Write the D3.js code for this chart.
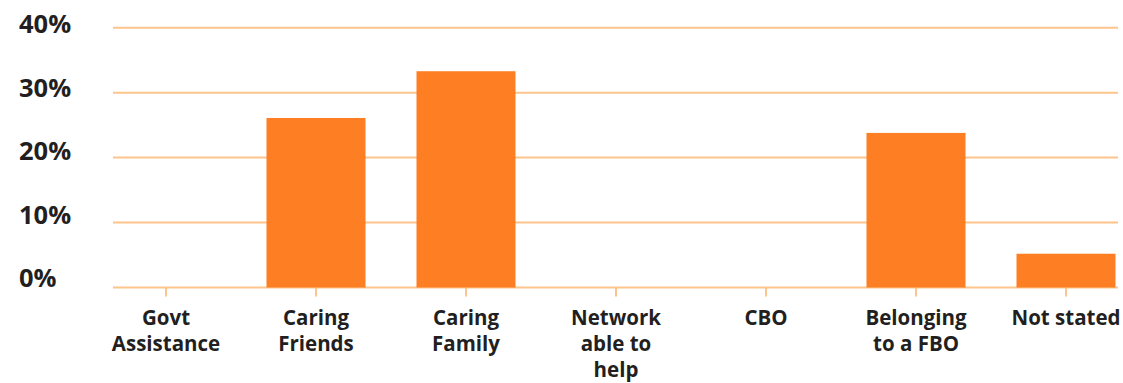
<!DOCTYPE html>
<html>
<head>
<meta charset="utf-8">
<script src="https://cdn.jsdelivr.net/npm/d3@7/dist/d3.min.js"></script>
<style>
  html, body { margin: 0; padding: 0; background: #ffffff; }
  svg { display: block; }
  text { font-family: "Open Sans", "DejaVu Sans", sans-serif; font-weight: 700; fill: #231f20; }
</style>
</head>
<body>
<svg id="chart" width="1123" height="383"></svg>
<script>
// Share of respondents by source of support
const categories = [
  ["Govt", "Assistance"],
  ["Caring", "Friends"],
  ["Caring", "Family"],
  ["Network", "able to", "help"],
  ["CBO"],
  ["Belonging", "to a FBO"],
  ["Not stated"]
];
const values = [0, 26.1, 33.3, 0, 0, 23.8, 5.2];
const yTicks = [0, 10, 20, 30, 40];
const yTickLabels = ["0%", "10%", "20%", "30%", "40%"];

const svg = d3.select("#chart");
const keys = categories.map(c => c.join(" "));

const x = d3.scaleBand()
  .domain(keys)
  .range([91, 1141])
  .paddingInner(0.34)
  .paddingOuter(0.17);

const y = d3.scaleLinear().domain([0, 40]).range([287.5, 27.7]);
// tick labels sit on a slightly tighter vertical rhythm than the gridlines
const yLabel = d3.scaleLinear().domain([0, 40]).range([287, 33.3]);

const gridColor = "#fdc48c";
const barColor = "#fe7f23";

// horizontal gridlines
svg.append("g")
  .selectAll("line")
  .data(yTicks)
  .join("line")
  .attr("x1", 113)
  .attr("x2", 1118)
  .attr("y1", d => y(d))
  .attr("y2", d => y(d))
  .attr("stroke", gridColor)
  .attr("stroke-width", 2);

// y tick labels
svg.append("g")
  .selectAll("text")
  .data(yTicks)
  .join("text")
  .attr("x", 19)
  .attr("y", d => yLabel(d))
  .style("font-size", "25.5px")
  .text((d, i) => yTickLabels[i]);

// category tick marks
svg.append("g")
  .selectAll("line")
  .data(keys)
  .join("line")
  .attr("x1", d => x(d) + x.bandwidth() / 2)
  .attr("x2", d => x(d) + x.bandwidth() / 2)
  .attr("y1", y(0))
  .attr("y2", y(0) + 9)
  .attr("stroke", gridColor)
  .attr("stroke-width", 2);

// bars
svg.append("g")
  .selectAll("rect")
  .data(values)
  .join("rect")
  .attr("x", (d, i) => x(keys[i]))
  .attr("width", x.bandwidth())
  .attr("y", d => y(d))
  .attr("height", d => y(0) - y(d))
  .attr("fill", barColor);

// category labels
const labels = svg.append("g")
  .selectAll("text")
  .data(categories)
  .join("text")
  .attr("text-anchor", "middle")
  .attr("x", (d, i) => x(keys[i]) + x.bandwidth() / 2)
  .attr("y", 325)
  .style("font-size", "20.5px");

labels.selectAll("tspan")
  .data(d => d)
  .join("tspan")
  .attr("x", function () { return d3.select(this.parentNode).attr("x"); })
  .attr("dy", (d, i) => i === 0 ? 0 : 26)
  .text(d => d);
</script>
</body>
</html>
